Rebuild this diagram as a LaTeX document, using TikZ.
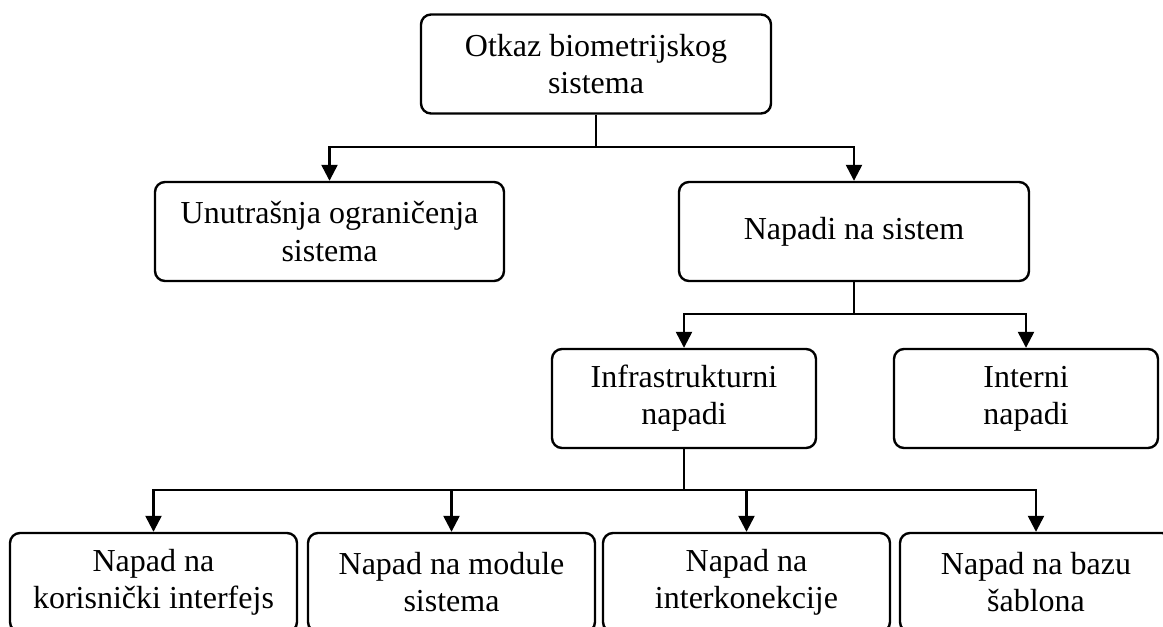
\documentclass[tikz,border=0pt]{standalone}
\usepackage{fontspec}
\setmainfont{Liberation Serif}
\usetikzlibrary{arrows.meta}
\begin{document}
\begin{tikzpicture}[x=0.75pt,y=-0.75pt,
  box/.style={draw, line width=1.8pt, rounded corners=7.5pt, align=center,
    minimum height=74.25pt, inner sep=0pt,
    font=\fontsize{24pt}{27.8pt}\selectfont},
  link/.style={line width=1.8pt},
  arr/.style={link, -{Triangle[width=12pt,length=12pt]}}]
\useasboundingbox (0,0) rectangle (1163,626);
\begin{scope}
\clip (0,0) rectangle (1163,626);
\node[box, minimum width=262.5pt] (top) at (596,64) {Otkaz biometrijskog\\sistema};
\node[box, minimum width=261.75pt] (unutr) at (329.5,231.5) {Unutrašnja ograničenja\\sistema};
\node[box, minimum width=262.5pt] (napadi) at (854,231.5) {Napadi na sistem};
\node[box, minimum width=198pt] (infra) at (684,398.5) {Infrastrukturni\\napadi};
\node[box, minimum width=198pt] (interni) at (1026,398.5) {Interni\\napadi};
\node[box, minimum width=215.25pt] (b1) at (153.5,582.5) {Napad na\\korisnički interfejs};
\node[box, minimum width=215.25pt] (b2) at (451.5,582.5) {Napad na module\\sistema};
\node[box, minimum width=215.25pt] (b3) at (746.5,582.5) {Napad na\\interkonekcije};
\node[box, minimum width=204pt] (b4) at (1036,582.5) {Napad na bazu\\šablona};

\coordinate (j1) at (596,147);
\coordinate (j2) at (854,314);
\coordinate (j3) at (684,490);

\draw[link] (top.south) -- (j1);
\draw[arr] (j1) -| (unutr.north);
\draw[arr] (j1) -| (napadi.north);

\draw[link] (napadi.south) -- (j2);
\draw[arr] (j2) -| (infra.north);
\draw[arr] (j2) -| (interni.north);

\draw[link] (infra.south) -- (j3);
\draw[arr] (j3) -| (b1.north);
\draw[arr] (j3) -| (b2.north);
\draw[arr] (j3) -| (b3.north);
\draw[arr] (j3) -| (b4.north);
\end{scope}
\end{tikzpicture}
\end{document}
